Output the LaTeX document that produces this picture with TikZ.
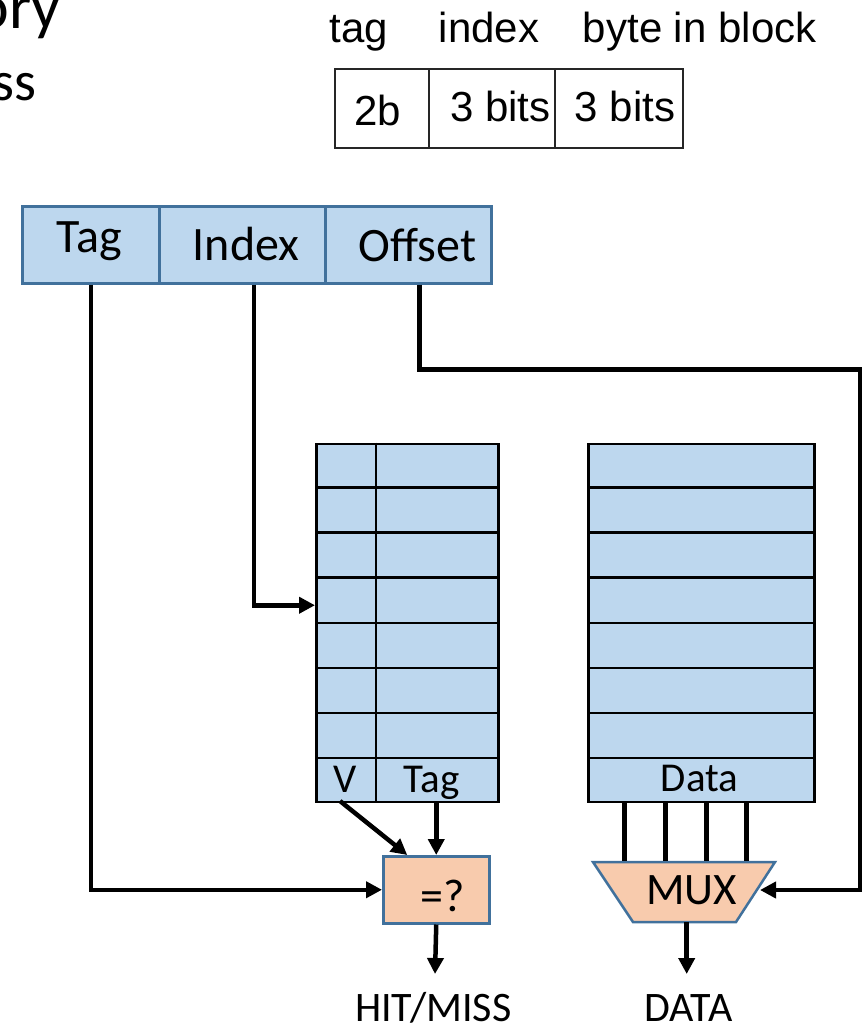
\documentclass[tikz,border=0pt]{standalone}
\usepackage{fontspec}
\setmainfont{Carlito}
\newfontfamily\arialfont{Liberation Sans}
\usetikzlibrary{arrows.meta,calc}
\definecolor{cellblue}{HTML}{BDD7EE}
\definecolor{edgeblue}{HTML}{41719C}
\definecolor{peach}{HTML}{F8CBAD}
\newcommand\setfs[1]{\fontsize{#1}{#1}\selectfont}
\begin{document}
\begin{tikzpicture}[x=1pt,y=-1pt,
  wire/.style={line width=4.5pt},
  arrow/.style={wire,-{Triangle[length=16pt,width=16pt]}},
  field/.style={draw=edgeblue,fill=cellblue,line width=2.5pt,inner sep=0,
    minimum height=77pt,anchor=north west},
  memarray/.style={draw=black,fill=cellblue,line width=2.5pt,inner sep=0,
    minimum height=358pt,anchor=north west},
  gridline/.style={draw=black,line width=2.5pt},
  proc/.style={draw=edgeblue,fill=peach,line width=2.5pt},
  bitcell/.style={draw=black!85,line width=2pt,inner sep=0,
    minimum height=79pt,anchor=north west},
  txt/.style={inner sep=0,anchor=base},
  arial/.style={txt,font=\arialfont\setfs{42}}]
\useasboundingbox (0,0) rectangle (864,1025);
\clip (0,0) rectangle (864,1025);

% heading fragments
\node[inner sep=0,anchor=base east,font=\setfs{64}] (title) at (61,29) {ory};
\node[inner sep=0,anchor=base east,font=\setfs{56}] (sub) at (37,100) {ss};

% address split (top right)
\node[arial] (ltag) at (359,43) {tag};
\node[arial] (lidx) at (489,43) {index};
\node[arial] (lbyte) at (699.7,43) {byte in block};
\node[bitcell,minimum width=94pt] (c1) at (334,68) {};
\node[bitcell,minimum width=126pt] (c2) at (428,68) {};
\node[bitcell,minimum width=128pt] (c3) at (554,68) {};
\node[arial] (t1) at (377.5,125) {2b};
\node[arial] (t2) at (500.3,121.7) {3 bits};
\node[arial] (t3) at (625,121.7) {3 bits};

% address fields
\node[field,minimum width=137pt] (tagf) at (21,205) {};
\node[field,minimum width=166pt] (idxf) at (158,205) {};
\node[field,minimum width=166pt] (offf) at (324,205) {};
\node[txt,font=\setfs{48}] (ttag) at (89,252) {Tag};
\node[txt,font=\setfs{48}] (tidx) at (246,260) {Index};
\node[txt,font=\setfs{48}] (toff) at (417.5,261) {Offset};

% tag array and data array
\node[memarray,minimum width=182pt] (tagarr) at (315,442.5) {};
\node[memarray,minimum width=226pt] (dataarr) at (587,442.5) {};
\foreach \k in {1,...,7} {
  \draw[gridline] ($(tagarr.north west)!\k/8!(tagarr.south west)$) --
                  ($(tagarr.north east)!\k/8!(tagarr.south east)$);
  \draw[gridline] ($(dataarr.north west)!\k/8!(dataarr.south west)$) --
                  ($(dataarr.north east)!\k/8!(dataarr.south east)$);
}
\draw[gridline] ([xshift=61pt]tagarr.north west) -- ([xshift=61pt]tagarr.south west);
\node[txt,font=\setfs{41}] (tv) at (345.5,792) {V};
\node[txt,font=\setfs{41}] (ttg) at (431.5,792) {Tag};
\node[txt,font=\setfs{41}] (tdata) at (699.5,791) {Data};

% comparator and multiplexer
\node[proc,inner sep=0,minimum width=106pt,minimum height=67pt,anchor=north west] (cmp) at (382,855) {};
\node[txt,font=\setfs{46}] (teq) at (442.5,911.7) {=?};
\draw[proc] (593,862) -- (775,862) -- (736,922) -- (633,922) -- cycle;
\node[txt,font=\setfs{45}] (mux) at (691.7,904) {MUX};
\coordinate (muxR) at (760,890);
\coordinate (muxout) at (686.7,922);

% outputs
\node[txt,font=\setfs{42}] (hit) at (433.4,1021) {HIT/MISS};
\node[txt,font=\setfs{42}] (dout) at (688.4,1021) {DATA};
\coordinate (hitin) at (435,974);
\coordinate (dataout) at (686.7,974);

% wiring
\draw[arrow] (tagf.south) |- (cmp.west);
\draw[arrow] ([xshift=11.7pt]idxf.south) |- ([yshift=17.5pt]tagarr.west);
\coordinate (bend) at (860,369.3);
\draw[arrow] ([xshift=11.3pt]offf.south) |- (bend) |- (muxR);
\coordinate (vout) at (340,801);
\draw[arrow] (vout) -- ([xshift=-29pt]cmp.north);
\draw[arrow] (cmp.north |- tagarr.south) -- (cmp.north);
\draw[arrow] (cmp.south) -- (hitin);
\draw[arrow] (muxout) -- (dataout);
\foreach \dx in {-76.7,-35.7,5,45}
  \draw[wire] ([xshift=\dx pt]dataarr.south) -- ++(0,57.5);
\end{tikzpicture}
\end{document}
